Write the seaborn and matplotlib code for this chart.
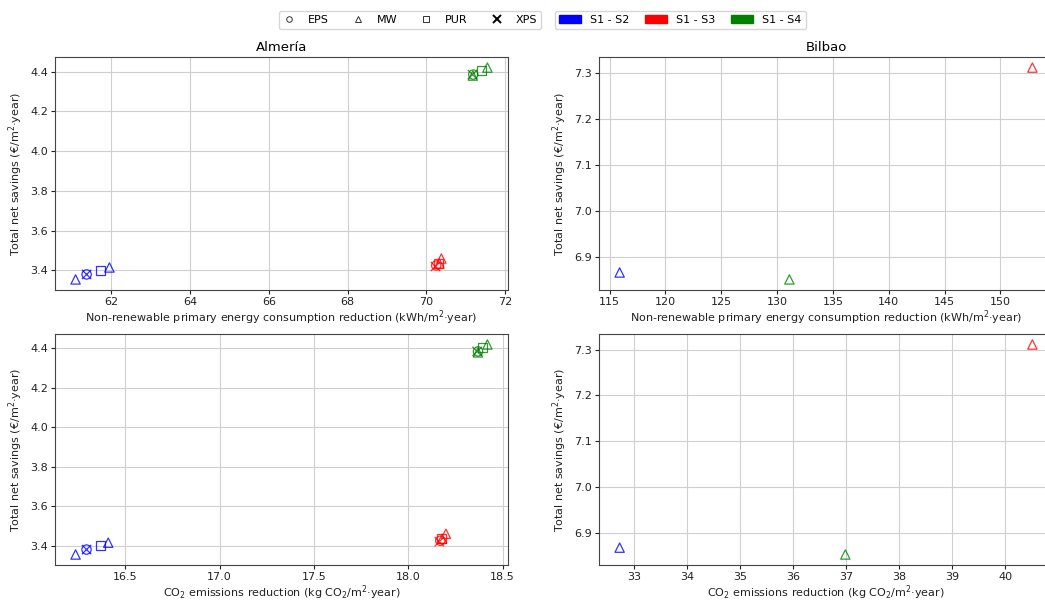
import matplotlib
matplotlib.use("Agg")
import matplotlib.pyplot as plt
import seaborn as sns
import pandas as pd
from matplotlib.lines import Line2D
from matplotlib.patches import Patch

# Almería: one point per insulation material and scenario
alm_materials = ["MW", "EPS", "XPS", "PUR", "MW"]
alm_s2_energy = [61.09, 61.37, 61.37, 61.72, 61.95]
alm_s3_energy = [70.33, 70.25, 70.23, 70.30, 70.38]
alm_s4_energy = [71.18, 71.19, 71.17, 71.40, 71.55]
alm_s2_co2 = [16.237, 16.295, 16.295, 16.37, 16.41]
alm_s3_co2 = [18.18, 18.17, 18.165, 18.175, 18.20]
alm_s4_co2 = [18.37, 18.37, 18.365, 18.395, 18.42]
alm_s2_cost = [3.355, 3.38, 3.38, 3.40, 3.415]
alm_s3_cost = [3.435, 3.425, 3.42, 3.435, 3.46]
alm_s4_cost = [4.38, 4.385, 4.385, 4.405, 4.42]

# Bilbao: only MW, scenarios S1-S2, S1-S3, S1-S4
bil_materials = ["MW", "MW", "MW"]
bil_scenarios = ["S1 - S2", "S1 - S3", "S1 - S4"]
bil_energy = [115.9, 152.86, 131.1]
bil_co2 = [32.72, 40.51, 36.98]
bil_cost = [6.867, 7.311, 6.852]

scenarios = ["S1 - S2", "S1 - S3", "S1 - S4"]
palette = {"S1 - S2": "blue", "S1 - S3": "red", "S1 - S4": "green"}
markers = {"EPS": "o", "MW": "^", "PUR": "s", "XPS": "x"}

rows = []
for sc, en, co, ct in zip(scenarios,
                          [alm_s2_energy, alm_s3_energy, alm_s4_energy],
                          [alm_s2_co2, alm_s3_co2, alm_s4_co2],
                          [alm_s2_cost, alm_s3_cost, alm_s4_cost]):
    for m, e, c, t in zip(alm_materials, en, co, ct):
        rows.append(dict(city="Almería", scenario=sc, material=m, energy=e, co2=c, cost=t))
for sc, m, e, c, t in zip(bil_scenarios, bil_materials, bil_energy, bil_co2, bil_cost):
    rows.append(dict(city="Bilbao", scenario=sc, material=m, energy=e, co2=c, cost=t))
df = pd.DataFrame(rows)

W, H = 1045, 603
fig = plt.figure(figsize=(W / 100, H / 100), dpi=100)
boxes = {
    ("Almería", "energy"): [55, 57, 453, 233],
    ("Bilbao", "energy"): [599, 57, 454, 233],
    ("Almería", "co2"): [55, 334, 453, 231],
    ("Bilbao", "co2"): [599, 334, 454, 231],
}

xlabels = {
    "energy": "Non-renewable primary energy consumption reduction (kWh/m$^2$·year)",
    "co2": "CO$_2$ emissions reduction (kg CO$_2$/m$^2$·year)",
}

for (city, var), (l, t, w, h) in boxes.items():
    ax = fig.add_axes([l / W, 1 - (t + h) / H, w / W, h / H])
    sub = df[df.city == city]
    for mat in markers:
        part = sub[sub.material == mat]
        if part.empty:
            continue
        sns.scatterplot(data=part, x=var, y="cost", hue="scenario", palette=palette,
                        marker=markers[mat], s=45, legend=False, ax=ax, zorder=3)
        coll = ax.collections[-1]
        fc = coll.get_facecolors()
        fc[:, 3] = 0.8
        coll.set_edgecolors(fc)
        coll.set_facecolors("none")
        coll.set_linewidths(0.9)
    ax.grid(True, color="#cfcfcf", linewidth=0.8)
    ax.set_axisbelow(True)
    ax.tick_params(labelsize=8, length=3, pad=2, colors="#222222")
    for sp in ax.spines.values():
        sp.set_color("#444444")
        sp.set_linewidth(0.8)
    ax.set_xlabel(xlabels[var], fontsize=8, labelpad=1, color="#222222")
    ax.set_ylabel("Total net savings (€/m$^2$·year)", fontsize=8, labelpad=4, color="#222222")
    if var == "energy":
        ax.set_title(city, fontsize=9.5, pad=4)

mat_handles = [Line2D([], [], linestyle="none", marker=markers[m], markerfacecolor="none",
                      markeredgecolor="#333333", markersize=4, markeredgewidth=0.7)
               for m in markers]
mat_handles[-1] = Line2D([], [], linestyle="none", marker="x", color="black",
                         markersize=6, markeredgewidth=1.4)
fig.legend(mat_handles, list(markers), loc="upper right", ncol=4,
           bbox_to_anchor=(547 / W, 1 - 5 / H), fontsize=8,
           handlelength=1.0, handletextpad=1.2, columnspacing=2.1, frameon=True)
sc_handles = [Patch(color=palette[s]) for s in scenarios]
fig.legend(sc_handles, scenarios, loc="upper left", ncol=3,
           bbox_to_anchor=(549 / W, 1 - 5 / H), fontsize=8,
           handlelength=2.0, handletextpad=0.8, columnspacing=1.4, frameon=True)

fig.savefig("out.png", dpi=100)
plt.close(fig)
